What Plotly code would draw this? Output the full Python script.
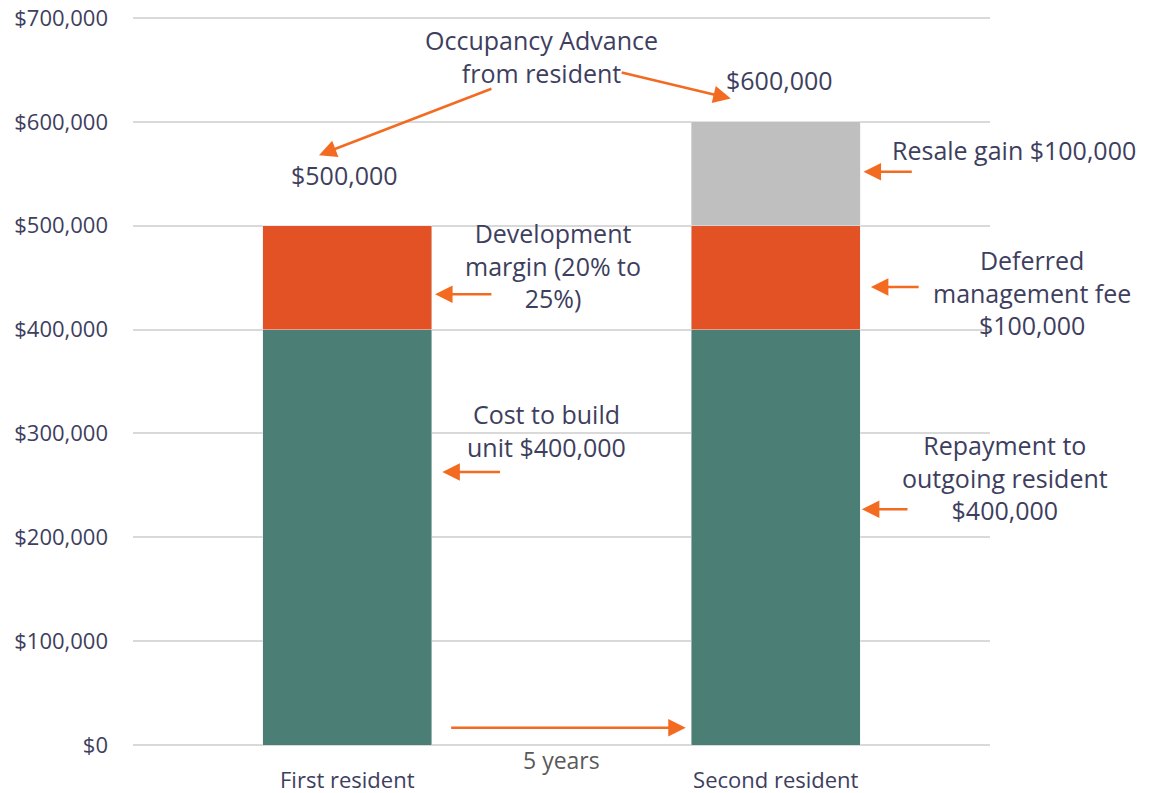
import plotly.graph_objects as go

categories = ["First resident", "Second resident"]
base_cost = [400000, 400000]
margin_fee = [100000, 100000]
resale_gain = [0, 100000]
y_ticks = [0, 100000, 200000, 300000, 400000, 500000, 600000, 700000]
y_tick_labels = ["$0", "$100,000", "$200,000", "$300,000", "$400,000",
                 "$500,000", "$600,000", "$700,000"]

TEAL = "#4B7F76"
ORANGE = "#E35225"
GREY = "#BFBFBF"
ARROW = "#F26B21"
TXT = "#3E3E5E"
FONT = "Segoe UI, Open Sans, Noto Sans, sans-serif"
YMAX = 702000

fig = go.Figure()
fig.add_bar(x=categories, y=base_cost, marker_color=TEAL, name="Cost")
fig.add_bar(x=categories, y=margin_fee, marker_color=ORANGE, name="Margin / DMF")
fig.add_bar(x=categories, y=resale_gain, marker_color=GREY, name="Resale gain")

fig.update_layout(
    barmode="stack",
    bargap=0.605,
    width=1149, height=793,
    margin=dict(l=133, r=159, t=16, b=48, autoexpand=False),
    plot_bgcolor="white", paper_bgcolor="white",
    showlegend=False,
    font=dict(family=FONT, color=TXT),
)
fig.update_yaxes(
    range=[0, YMAX], tickmode="array", tickvals=y_ticks, ticktext=y_tick_labels,
    showgrid=True, gridcolor="#D9D9D9", gridwidth=1.5,
    zeroline=True, zerolinecolor="#D9D9D9", zerolinewidth=1.5,
    tickfont=dict(size=22, color=TXT), ticklabelstandoff=24, automargin=False,
)
fig.update_xaxes(
    range=[-0.5, 1.5], showgrid=False, showline=False,
    tickfont=dict(size=22, color=TXT), ticklabelstandoff=20, automargin=False,
)

def arrow(x0, y0, x1, y1):
    # tail (x0,y0) -> head (x1,y1), data coordinates
    fig.add_annotation(x=x1, y=y1, ax=x0, ay=y0, xref="x", yref="y",
                       axref="x", ayref="y", text="", showarrow=True,
                       arrowhead=2, arrowsize=1.4, arrowwidth=2.5,
                       arrowcolor=ARROW)

def label(x, y, text, size=25, color=TXT):
    # x in category units, y in data units -> paper coordinates
    fig.add_annotation(x=(x + 0.5) / 2, y=y / YMAX, xref="paper", yref="paper",
                       xanchor="center", yanchor="middle",
                       text=text, showarrow=False,
                       font=dict(size=size, color=color), align="center")

arrow(0.34, 434000, 0.205, 434000)
arrow(0.36, 263000, 0.222, 263000)
arrow(1.321, 552000, 1.205, 552000)
arrow(1.337, 441000, 1.222, 441000)
arrow(1.311, 227000, 1.201, 227000)
arrow(0.239, 16500, 0.79, 16500)
arrow(0.340, 632500, -0.066, 568000)
arrow(0.637, 648000, 0.895, 622500)

label(0.454, 663000, "Occupancy Advance<br>from resident")
label(-0.007, 549000, "$500,000")
label(1.009, 640000, "$600,000")
label(0.48, 462000, "Development<br>margin (20% to<br>25%)")
label(0.464, 303000, "Cost to build<br>unit $400,000")
label(1.555, 573000, "Resale gain $100,000")
label(1.597, 436000, "Deferred<br>management fee<br>$100,000")
label(1.536, 258000, "Repayment to<br>outgoing resident<br>$400,000")
label(0.499, -14000, "5 years", size=23, color="#595959")

fig.write_html("out.html", config={"displayModeBar": False},
               post_script="document.body.style.margin='0';")
